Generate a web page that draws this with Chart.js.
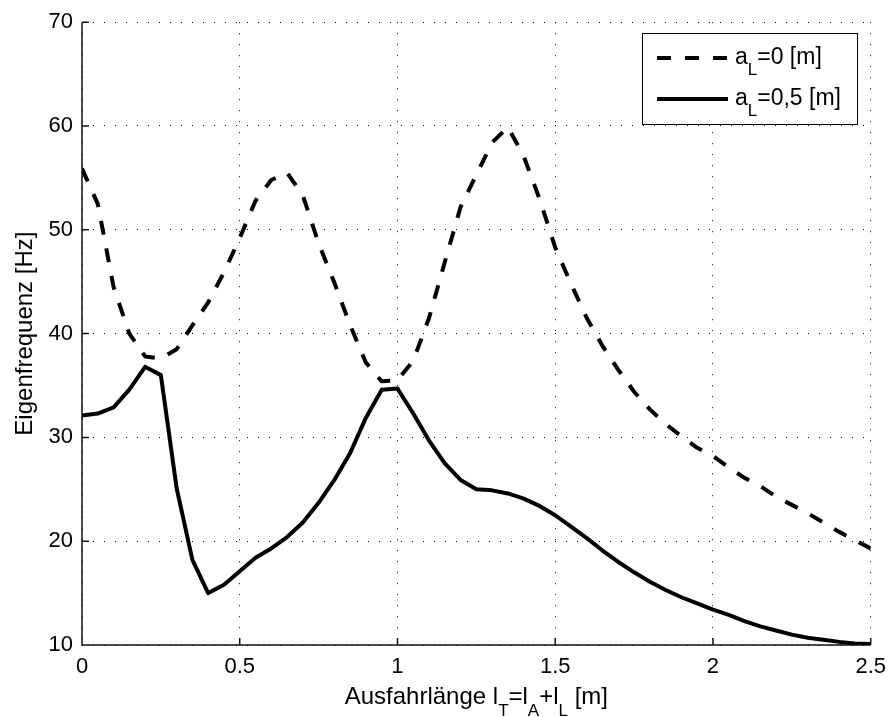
<!DOCTYPE html>
<html>
<head>
<meta charset="utf-8">
<title>Eigenfrequenz</title>
<script src="https://cdn.jsdelivr.net/npm/chart.js@4.4.1/dist/chart.umd.min.js"></script>
<style>
  html, body { margin: 0; padding: 0; background: #fff; }
  #wrap { width: 895px; height: 717px; }
</style>
</head>
<body>
<div id="wrap"><canvas id="freqChart" width="895" height="717"></canvas></div>
<script>
// Ausfahrlänge [m]
const lengths = [
  0, 0.05, 0.1, 0.15, 0.2, 0.25, 0.3, 0.35, 0.4, 0.45,
  0.5, 0.55, 0.6, 0.65, 0.7, 0.75, 0.8, 0.85, 0.9, 0.95,
  1, 1.05, 1.1, 1.15, 1.2, 1.25, 1.3, 1.35, 1.4, 1.45,
  1.5, 1.55, 1.6, 1.65, 1.7, 1.75, 1.8, 1.85, 1.9, 1.95,
  2, 2.05, 2.1, 2.15, 2.2, 2.25, 2.3, 2.35, 2.4, 2.45, 2.5
];

// Eigenfrequenz [Hz] for a_L = 0 m
const freqA0 = [
  55.9, 52.5, 44.5, 40.0, 37.8, 37.6, 38.5, 40.8, 43.0, 45.9,
  49.2, 52.8, 54.8, 55.5, 53.3, 48.7, 44.9, 40.8, 37.2, 35.4,
  35.5, 37.4, 41.5, 46.9, 52.2, 55.3, 58.4, 59.9, 57.1, 53.0,
  48.3, 44.8, 41.5, 38.8, 36.5, 34.4, 32.7, 31.3, 30.1, 29.0,
  28.2, 27.1, 26.1, 25.3, 24.3, 23.5, 22.7, 21.8, 20.9, 20.1, 19.3
];

// Eigenfrequenz [Hz] for a_L = 0,5 m
const freqA05 = [
  32.1, 32.3, 32.9, 34.6, 36.8, 36.0, 25.1, 18.2, 15.0, 15.8,
  17.1, 18.4, 19.3, 20.4, 21.8, 23.7, 25.9, 28.5, 31.9, 34.6,
  34.7, 32.3, 29.7, 27.5, 25.9, 25.0, 24.9, 24.6, 24.1, 23.4,
  22.5, 21.4, 20.3, 19.1, 18.0, 17.0, 16.1, 15.3, 14.6, 14.0,
  13.4, 12.9, 12.3, 11.8, 11.4, 11.0, 10.7, 10.5, 10.3, 10.15, 10.1
];

const xTicks = [0, 0.5, 1, 1.5, 2, 2.5];
const yTicks = [10, 20, 30, 40, 50, 60, 70];

const FONT = '"Liberation Sans", Arial, Helvetica, sans-serif';

// draws a run of text pieces, some of them as subscripts
function drawRich(ctx, parts, x, y, size, align) {
  const subSize = Math.round(size * 0.72);
  let total = 0;
  parts.forEach(p => {
    ctx.font = (p.sub ? subSize : size) + 'px ' + FONT;
    p.w = ctx.measureText(p.t).width;
    total += p.w;
  });
  let cx = align === 'center' ? x - total / 2 : x;
  ctx.textAlign = 'left';
  ctx.textBaseline = 'alphabetic';
  parts.forEach(p => {
    ctx.font = (p.sub ? subSize : size) + 'px ' + FONT;
    ctx.fillText(p.t, cx, p.sub ? y + size * 0.48 : y);
    cx += p.w;
  });
}

const matlabAxes = {
  id: 'matlabAxes',
  afterDraw(chart) {
    const ctx = chart.ctx;
    const area = chart.chartArea;
    const xs = chart.scales.x;
    const ys = chart.scales.y;
    ctx.save();

    // axis lines and inward ticks
    ctx.strokeStyle = '#111';
    ctx.lineWidth = 1.5;
    ctx.setLineDash([]);
    ctx.beginPath();
    ctx.moveTo(area.left, area.top);
    ctx.lineTo(area.left, area.bottom);
    ctx.lineTo(area.right, area.bottom);
    xTicks.forEach(v => {
      const px = xs.getPixelForValue(v);
      ctx.moveTo(px, area.bottom);
      ctx.lineTo(px, area.bottom - 7);
    });
    yTicks.forEach(v => {
      const py = ys.getPixelForValue(v);
      ctx.moveTo(area.left, py);
      ctx.lineTo(area.left + 7, py);
    });
    ctx.stroke();

    ctx.fillStyle = '#000';

    // x axis title
    drawRich(ctx, [
      { t: 'Ausfahrlänge l' }, { t: 'T', sub: true },
      { t: '=l' }, { t: 'A', sub: true },
      { t: '+l' }, { t: 'L', sub: true },
      { t: ' [m]' }
    ], (area.left + area.right) / 2, 704, 24, 'center');

    // y axis title
    ctx.save();
    ctx.translate(32, (area.top + area.bottom) / 2);
    ctx.rotate(-Math.PI / 2);
    ctx.font = '24px ' + FONT;
    ctx.textAlign = 'center';
    ctx.textBaseline = 'alphabetic';
    ctx.fillText('Eigenfrequenz [Hz]', 0, 0);
    ctx.restore();

    // legend
    const lx = 642, ly = 33, lw = 215, lh = 91;
    ctx.fillStyle = '#fff';
    ctx.fillRect(lx, ly, lw, lh);
    ctx.strokeStyle = '#000';
    ctx.lineWidth = 1;
    ctx.strokeRect(lx + 0.5, ly + 0.5, lw, lh);

    const entries = [
      { ds: chart.data.datasets[0], y: 58, parts: [{ t: 'a' }, { t: 'L', sub: true }, { t: '=0 [m]' }] },
      { ds: chart.data.datasets[1], y: 99, parts: [{ t: 'a' }, { t: 'L', sub: true }, { t: '=0,5 [m]' }] }
    ];
    entries.forEach(e => {
      ctx.strokeStyle = '#000';
      ctx.lineWidth = e.ds.borderWidth;
      ctx.setLineDash(e.ds.borderDash || []);
      ctx.beginPath();
      ctx.moveTo(657, e.y);
      ctx.lineTo(728, e.y);
      ctx.stroke();
      ctx.setLineDash([]);
      ctx.fillStyle = '#000';
      drawRich(ctx, e.parts, 735, e.y + 6, 23, 'left');
    });

    ctx.restore();
  }
};

const ctx = document.getElementById('freqChart').getContext('2d');
const freqChart = new Chart(ctx, {
  type: 'line',
  data: {
    datasets: [
      {
        label: 'a_L=0 [m]',
        data: lengths.map((x, i) => ({ x: x, y: freqA0[i] })),
        borderColor: '#000',
        borderWidth: 4,
        borderDash: [14, 14],
        borderCapStyle: 'butt',
        borderJoinStyle: 'round',
        pointRadius: 0,
        tension: 0,
        fill: false
      },
      {
        label: 'a_L=0,5 [m]',
        data: lengths.map((x, i) => ({ x: x, y: freqA05[i] })),
        borderColor: '#000',
        borderWidth: 4,
        borderCapStyle: 'butt',
        borderJoinStyle: 'round',
        pointRadius: 0,
        tension: 0,
        fill: false
      }
    ]
  },
  options: {
    responsive: false,
    animation: false,
    devicePixelRatio: 1,
    layout: { padding: { left: 0, right: 22, top: 21, bottom: 0 } },
    plugins: {
      legend: { display: false },
      tooltip: { enabled: false }
    },
    scales: {
      x: {
        type: 'linear',
        min: 0,
        max: 2.5,
        afterBuildTicks: scale => { scale.ticks = xTicks.map(v => ({ value: v })); },
        afterFit: scale => { scale.height = 72; },
        ticks: {
          color: '#000',
          font: { family: FONT, size: 22 },
          padding: 9,
          maxRotation: 0,
          callback: v => String(v)
        },
        grid: { color: '#000', lineWidth: 1, drawTicks: false },
        border: { display: false, dash: [1, 10] }
      },
      y: {
        type: 'linear',
        min: 10,
        max: 70,
        afterBuildTicks: scale => { scale.ticks = yTicks.map(v => ({ value: v })); },
        afterFit: scale => { scale.width = 82; },
        ticks: {
          color: '#000',
          font: { family: FONT, size: 22 },
          padding: 9,
          callback: v => String(v)
        },
        grid: { color: '#000', lineWidth: 1, drawTicks: false },
        border: { display: false, dash: [1, 10] }
      }
    }
  },
  plugins: [matlabAxes]
});
</script>
</body>
</html>
